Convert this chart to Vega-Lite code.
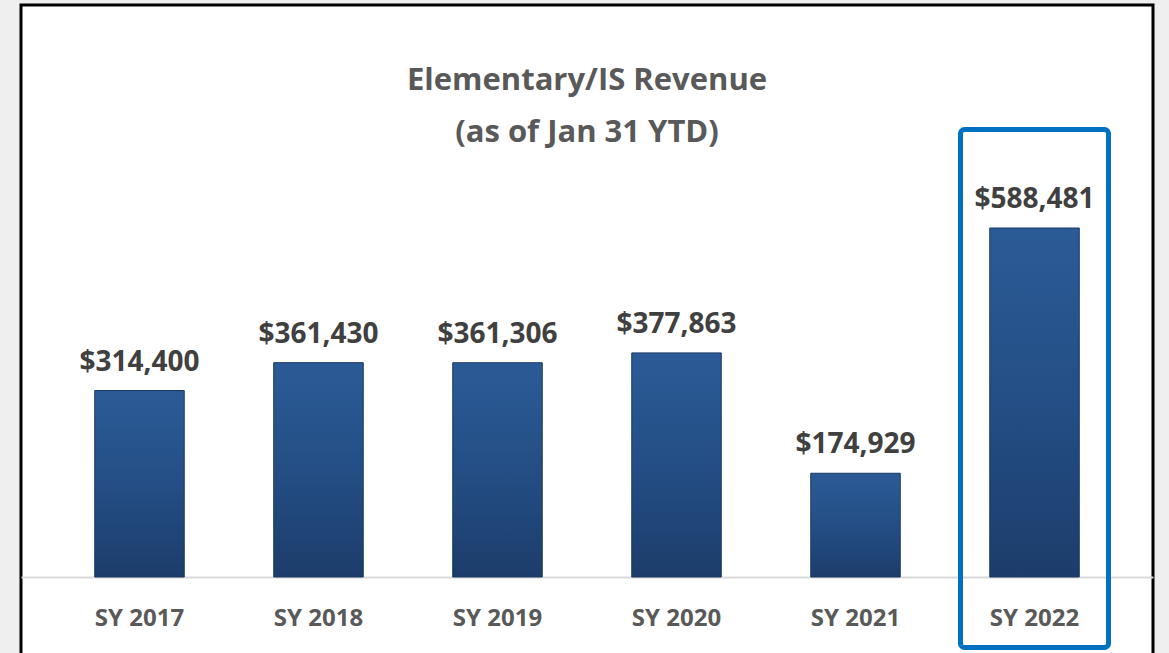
{
  "$schema": "https://vega.github.io/schema/vega-lite/v6.json",
  "width": 1132,
  "height": 650,
  "autosize": {"type": "none"},
  "padding": {"left": 21, "top": 5, "right": 16, "bottom": 0},
  "background": "#efefef",
  "title": {
    "text": ["Elementary/IS Revenue", "(as of Jan 31 YTD)"],
    "font": "Open Sans",
    "fontSize": 31,
    "fontWeight": "bold",
    "color": "#595959",
    "lineHeight": 52,
    "anchor": "middle",
    "offset": -144
  },
  "config": {
    "view": {"fill": "white", "stroke": "black", "strokeWidth": 3}
  },
  "data": {
    "values": [
      {"year": "SY 2017", "revenue": 314400, "label": "$314,400"},
      {"year": "SY 2018", "revenue": 361430, "label": "$361,430"},
      {"year": "SY 2019", "revenue": 361306, "label": "$361,306"},
      {"year": "SY 2020", "revenue": 377863, "label": "$377,863"},
      {"year": "SY 2021", "revenue": 174929, "label": "$174,929"},
      {"year": "SY 2022", "revenue": 588481, "label": "$588,481"}
    ]
  },
  "encoding": {
    "x": {
      "field": "year",
      "type": "nominal",
      "sort": null,
      "title": null,
      "scale": {"paddingInner": 0.5, "paddingOuter": 0.412},
      "axis": {
        "orient": "bottom",
        "offset": -78,
        "domain": true,
        "domainColor": "#d9d9d9",
        "domainWidth": 2,
        "ticks": false,
        "labelAngle": 0,
        "labelFont": "Open Sans",
        "labelFontSize": 24,
        "labelFontWeight": "bold",
        "labelColor": "#595959",
        "labelPadding": 29
      }
    },
    "y": {
      "field": "revenue",
      "type": "quantitative",
      "scale": {"domain": [-131523, 964505], "nice": false, "zero": false},
      "axis": null
    }
  },
  "layer": [
    {
      "mark": {
        "type": "bar",
        "color": {
          "gradient": "linear",
          "x1": 0, "y1": 0, "x2": 0, "y2": 1,
          "stops": [
            {"offset": 0, "color": "#2b5b96"},
            {"offset": 0.5, "color": "#244e85"},
            {"offset": 1, "color": "#1c3d6b"}
          ]
        },
        "stroke": "#193864",
        "strokeWidth": 1
      }
    },
    {
      "mark": {
        "type": "text",
        "font": "Open Sans",
        "fontSize": 28,
        "fontWeight": "bold",
        "color": "#404040",
        "baseline": "alphabetic",
        "dy": -20
      },
      "encoding": {
        "text": {"field": "label"}
      }
    },
    {
      "data": {
        "values": [
          {"year": "SY 2022", "top": 754574, "bottom": -118877}
        ]
      },
      "mark": {
        "type": "bar",
        "fill": "transparent",
        "stroke": "#0070c0",
        "strokeWidth": 5,
        "cornerRadius": 4,
        "width": 148
      },
      "encoding": {
        "y": {"field": "top", "type": "quantitative"},
        "y2": {"field": "bottom"}
      }
    }
  ]
}
